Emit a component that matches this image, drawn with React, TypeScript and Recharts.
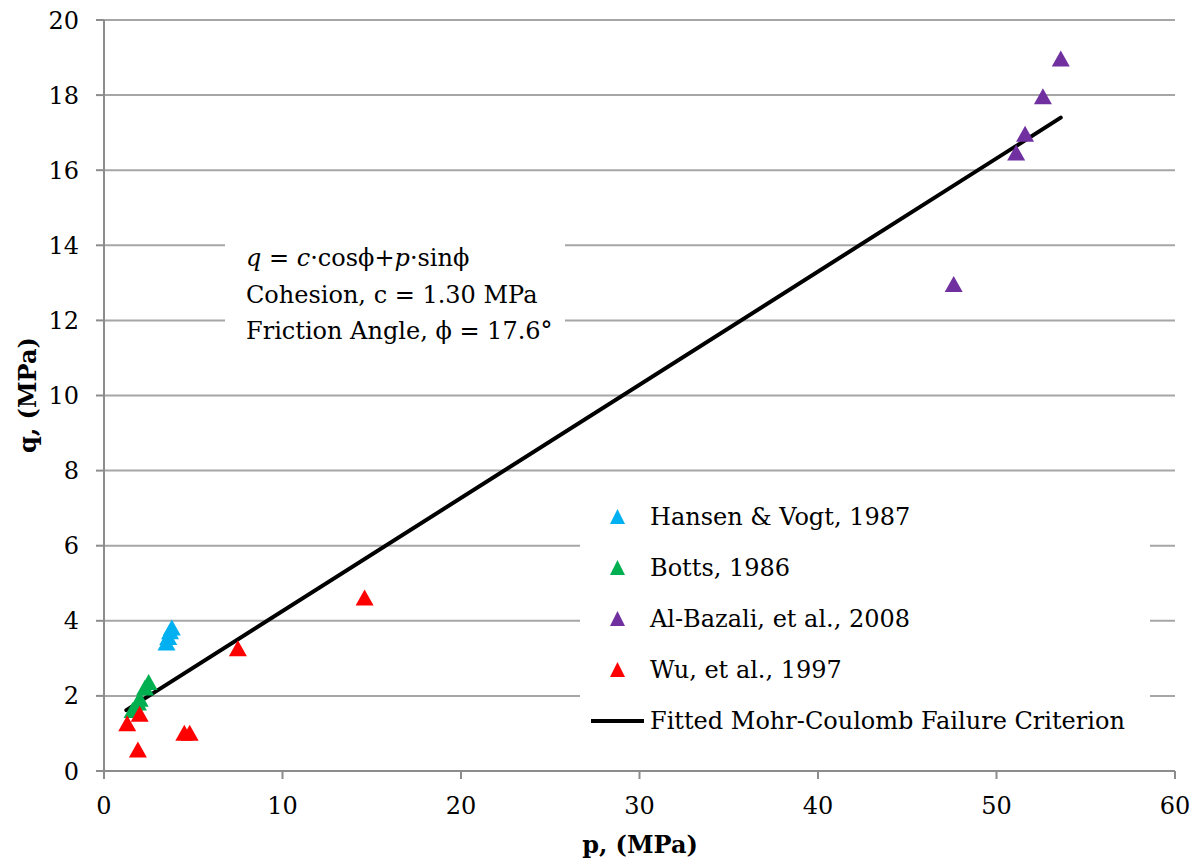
import React from "react"
import { ScatterChart, Scatter, XAxis, YAxis, CartesianGrid, Legend } from "recharts"

const FONT = "'DejaVu Serif', serif"

const xTicks = [0, 10, 20, 30, 40, 50, 60]
const yTicks = [0, 2, 4, 6, 8, 10, 12, 14, 16, 18, 20]

// measured points, p and q in MPa
const hansenP = [3.5, 3.6, 3.7, 3.8]
const hansenQ = [3.35, 3.5, 3.65, 3.75]

const bottsP = [1.6, 1.9, 2.0, 2.3, 2.5]
const bottsQ = [1.55, 1.75, 1.85, 2.15, 2.3]

const bazaliP = [47.6, 51.1, 51.6, 52.6, 53.6]
const bazaliQ = [12.9, 16.4, 16.9, 17.9, 18.9]

const wuP = [1.3, 2.0, 1.9, 4.5, 4.8, 7.5, 14.6]
const wuQ = [1.2, 1.45, 0.5, 0.95, 0.95, 3.2, 4.55]

// end points of the fitted Mohr-Coulomb line
const fitP = [1.25, 53.6]
const fitQ = [1.62, 17.4]

const seriesNames = ["Hansen & Vogt, 1987", "Botts, 1986", "Al-Bazali, et al., 2008", "Wu, et al., 1997"]
const seriesColors = ["#00B0F0", "#00B050", "#7030A0", "#FF0000"]
const fitName = "Fitted Mohr-Coulomb Failure Criterion"

const toPoints = (p: number[], q: number[]) => p.map((v, i) => ({ p: v, q: q[i] }))

const seriesData = [
  toPoints(hansenP, hansenQ),
  toPoints(bottsP, bottsQ),
  toPoints(bazaliP, bazaliQ),
  toPoints(wuP, wuQ),
]
const fitData = toPoints(fitP, fitQ)

// triangle marker, centred on its centroid
const triangle = (color: string) => (props: any) => {
  const { cx, cy } = props
  if (cx == null || cy == null) return <g />
  return (
    <polygon
      points={`${cx},${cy - 10.7} ${cx + 9},${cy + 5.3} ${cx - 9},${cy + 5.3}`}
      fill={color}
    />
  )
}

function LegendBox() {
  return (
    <div
      style={{
        background: "#fff",
        width: 570,
        height: 255,
        paddingTop: 1,
        fontFamily: FONT,
        fontSize: 24,
        color: "#000",
        boxSizing: "border-box",
      }}
    >
      {seriesNames.map((name, i) => (
        <div key={name} style={{ display: "flex", alignItems: "center", height: 51 }}>
          <svg width={70} height={20} style={{ flex: "none" }}>
            <polygon points="37.5,2 45,17 30,17" fill={seriesColors[i]} />
          </svg>
          <span style={{ whiteSpace: "nowrap" }}>{name}</span>
        </div>
      ))}
      <div style={{ display: "flex", alignItems: "center", height: 51 }}>
        <svg width={70} height={20} style={{ flex: "none" }}>
          <line x1={11} y1={10} x2={64} y2={10} stroke="#000" strokeWidth={4} />
        </svg>
        <span style={{ whiteSpace: "nowrap" }}>{fitName}</span>
      </div>
    </div>
  )
}

export default function App() {
  return (
    <div style={{ position: "absolute", left: 0, top: 0, width: 1202, height: 865, background: "#fff" }}>
      <ScatterChart width={1202} height={865} margin={{ top: 20, right: 27, bottom: 0, left: 0 }}>
        <CartesianGrid vertical={false} stroke="#a6a6a6" strokeWidth={2} />
        <XAxis
          type="number"
          dataKey="p"
          domain={[0, 60]}
          ticks={xTicks}
          height={94}
          tickSize={8}
          tickMargin={18}
          axisLine={{ stroke: "#8c8c8c", strokeWidth: 2 }}
          tickLine={{ stroke: "#8c8c8c", strokeWidth: 2 }}
          tick={{ fill: "#000", fontSize: 24, fontFamily: FONT }}
          allowDataOverflow
        />
        <YAxis
          type="number"
          dataKey="q"
          domain={[0, 20]}
          ticks={yTicks}
          width={104}
          tickSize={8}
          tickMargin={17}
          axisLine={{ stroke: "#8c8c8c", strokeWidth: 2 }}
          tickLine={{ stroke: "#8c8c8c", strokeWidth: 2 }}
          tick={{ fill: "#000", fontSize: 24, fontFamily: FONT }}
          allowDataOverflow
        />
        <Scatter
          name={fitName}
          data={fitData}
          line={{ stroke: "#000", strokeWidth: 4, strokeLinecap: "round" }}
          shape={() => <g />}
          legendType="line"
          isAnimationActive={false}
        />
        {seriesData.map((d, i) => (
          <Scatter
            key={seriesNames[i]}
            name={seriesNames[i]}
            data={d}
            fill={seriesColors[i]}
            shape={triangle(seriesColors[i])}
            isAnimationActive={false}
          />
        ))}
        <Legend
          layout="horizontal"
          verticalAlign="middle"
          align="center"
          content={() => <LegendBox />}
          wrapperStyle={{ left: 580, top: 490, width: 570, height: 255 }}
        />
      </ScatterChart>

      <div
        style={{
          position: "absolute",
          left: 225,
          top: 240,
          width: 340,
          height: 110,
          background: "#fff",
          fontFamily: FONT,
          fontSize: 24,
          lineHeight: "36.5px",
          color: "#000",
          paddingLeft: 21,
          boxSizing: "border-box",
          whiteSpace: "nowrap",
        }}
      >
        <div>
          <i>q</i> = <i>c</i>·cosϕ+<i>p</i>·sinϕ
        </div>
        <div>Cohesion, c = 1.30 MPa</div>
        <div>Friction Angle, ϕ = 17.6°</div>
      </div>

      <div
        style={{
          position: "absolute",
          left: 540,
          top: 830,
          width: 200,
          textAlign: "center",
          fontFamily: FONT,
          fontWeight: "bold",
          fontSize: 24,
          color: "#000",
        }}
      >
        p, (MPa)
      </div>
      <div
        style={{
          position: "absolute",
          left: 28 - 100,
          top: 395 - 16,
          width: 200,
          textAlign: "center",
          fontFamily: FONT,
          fontWeight: "bold",
          fontSize: 24,
          lineHeight: "32px",
          color: "#000",
          transform: "rotate(-90deg)",
          transformOrigin: "100px 16px",
        }}
      >
        q, (MPa)
      </div>
    </div>
  )
}
